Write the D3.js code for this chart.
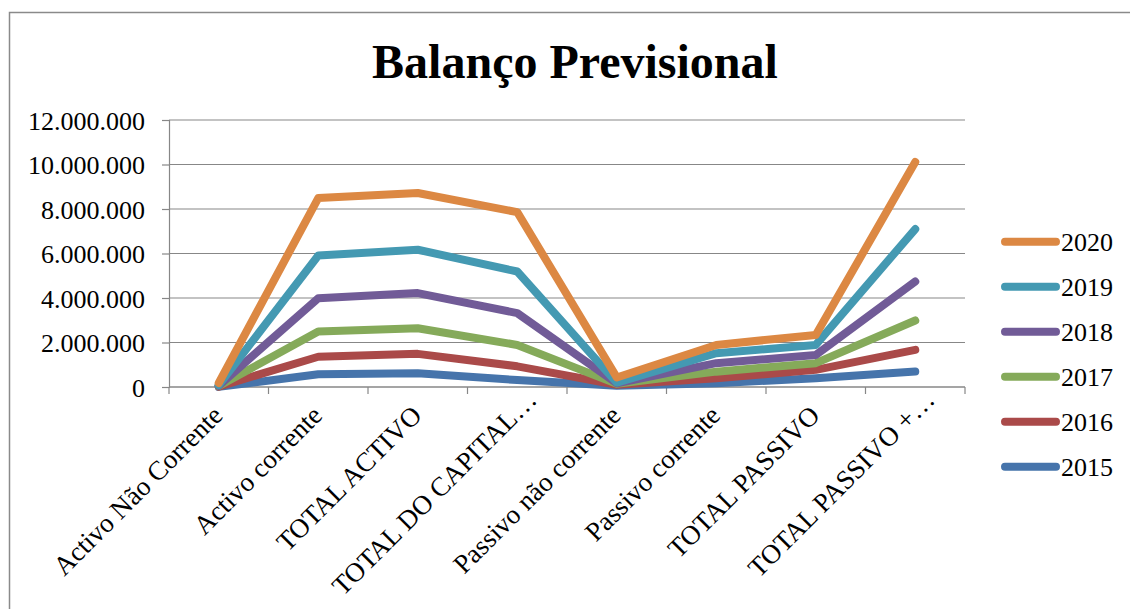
<!DOCTYPE html>
<html>
<head>
<meta charset="utf-8">
<script src="https://cdn.jsdelivr.net/npm/d3@7"></script>
<style>
  html, body { margin: 0; padding: 0; background: #fff; }
  svg { display: block; font-family: "Liberation Serif", "Times New Roman", serif; }
</style>
</head>
<body>
<svg id="chart" width="1130" height="609"></svg>
<script>
// Balance sheet categories and yearly projected values
const categories = [
  "Activo Não Corrente", "Activo corrente", "TOTAL ACTIVO", "TOTAL DO CAPITAL…",
  "Passivo não corrente", "Passivo corrente", "TOTAL PASSIVO", "TOTAL PASSIVO +…"
];
const years = ["2015", "2016", "2017", "2018", "2019", "2020"];
const v2015 = [5000, 570000, 620000, 310000, 60000, 170000, 390000, 700000];
const v2016 = [20000, 1360000, 1490000, 930000, 100000, 390000, 770000, 1670000];
const v2017 = [40000, 2490000, 2640000, 1890000, 140000, 690000, 1070000, 2990000];
const v2018 = [60000, 3990000, 4220000, 3320000, 170000, 1070000, 1440000, 4740000];
const v2019 = [90000, 5910000, 6170000, 5190000, 200000, 1520000, 1890000, 7100000];
const v2020 = [180000, 8490000, 8720000, 7860000, 430000, 1890000, 2340000, 10110000];
const yTicks = [0, 2000000, 4000000, 6000000, 8000000, 10000000, 12000000];
const colors = ["#4674AB", "#AA4A49", "#85AA5A", "#715B97", "#4499B2", "#DC8843"];

const seriesValues = [v2015, v2016, v2017, v2018, v2019, v2020];
const series = years.map((y, i) => ({ name: y, values: seriesValues[i], color: colors[i] }));

const svg = d3.select("#chart");

// outer frame of the chart
svg.append("rect")
  .attr("x", 9.5).attr("y", 12.5)
  .attr("width", 1200).attr("height", 700)
  .attr("fill", "none").attr("stroke", "#8a8a8a").attr("stroke-width", 1.5);

// title
svg.append("text")
  .attr("x", 575).attr("y", 78)
  .attr("text-anchor", "middle")
  .attr("font-size", 48).attr("font-weight", "bold")
  .text("Balanço Previsional");

const plot = { left: 169, right: 965, top: 120, bottom: 387 };

const x = d3.scaleBand().domain(categories).range([plot.left, plot.right]);
const y = d3.scaleLinear().domain([0, 12000000]).range([plot.bottom, plot.top]);

const locale = d3.formatLocale({ decimal: ",", thousands: ".", grouping: [3], currency: ["", ""] });
const fmt = locale.format(",");

// horizontal gridlines
svg.append("g").selectAll("line").data(yTicks).join("line")
  .attr("x1", plot.left).attr("x2", plot.right)
  .attr("y1", d => y(d)).attr("y2", d => y(d))
  .attr("stroke", "#878787").attr("stroke-width", 1.2);

// y axis
const yAxis = svg.append("g")
  .attr("transform", `translate(${plot.left},0)`)
  .call(d3.axisLeft(y).tickValues(yTicks).tickFormat(fmt).tickSize(7).tickPadding(17));
yAxis.attr("font-family", null).attr("font-size", null);
yAxis.select(".domain").attr("stroke", "#878787").attr("stroke-width", 1.2);
yAxis.selectAll(".tick line").attr("stroke", "#878787").attr("stroke-width", 1.2);
yAxis.selectAll(".tick text")
  .attr("font-size", 26).attr("fill", "#000").attr("dy", "0.35em");

// x axis with ticks at category boundaries
const bounds = categories.map(c => x(c)).concat([plot.right]);
const xg = svg.append("g");
xg.append("line")
  .attr("x1", plot.left).attr("x2", plot.right)
  .attr("y1", plot.bottom).attr("y2", plot.bottom)
  .attr("stroke", "#878787").attr("stroke-width", 1.2);
xg.selectAll("line.tick").data(bounds).join("line")
  .attr("class", "tick")
  .attr("x1", d => d).attr("x2", d => d)
  .attr("y1", plot.bottom).attr("y2", plot.bottom + 7)
  .attr("stroke", "#878787").attr("stroke-width", 1.2);
// rotated category labels; shortened names sit a little further along their baseline
xg.selectAll("text").data(categories).join("text")
  .attr("transform", d => `translate(${x(d) + x.bandwidth() / 2 + 5.5},417) rotate(-45)`)
  .attr("dx", d => d.endsWith("…") ? 22 : 0)
  .attr("text-anchor", "end")
  .attr("font-size", 27)
  .text(d => d);

// series lines, earliest year drawn first
const line = d3.line()
  .x((d, i) => x(categories[i]) + x.bandwidth() / 2)
  .y(d => y(d));

svg.append("g").selectAll("path").data(series).join("path")
  .attr("d", d => line(d.values))
  .attr("fill", "none")
  .attr("stroke", d => d.color)
  .attr("stroke-width", 8)
  .attr("stroke-linejoin", "round")
  .attr("stroke-linecap", "round");

// legend, latest year on top
const legend = svg.append("g");
const legendItems = series.slice().reverse();
const li = legend.selectAll("g").data(legendItems).join("g")
  .attr("transform", (d, i) => `translate(0,${241.7 + i * 45})`);
li.append("line")
  .attr("x1", 1005).attr("x2", 1056).attr("y1", 0).attr("y2", 0)
  .attr("stroke", d => d.color).attr("stroke-width", 8).attr("stroke-linecap", "round");
li.append("text")
  .attr("x", 1061).attr("y", 9)
  .attr("font-size", 26)
  .text(d => d.name);
</script>
</body>
</html>
